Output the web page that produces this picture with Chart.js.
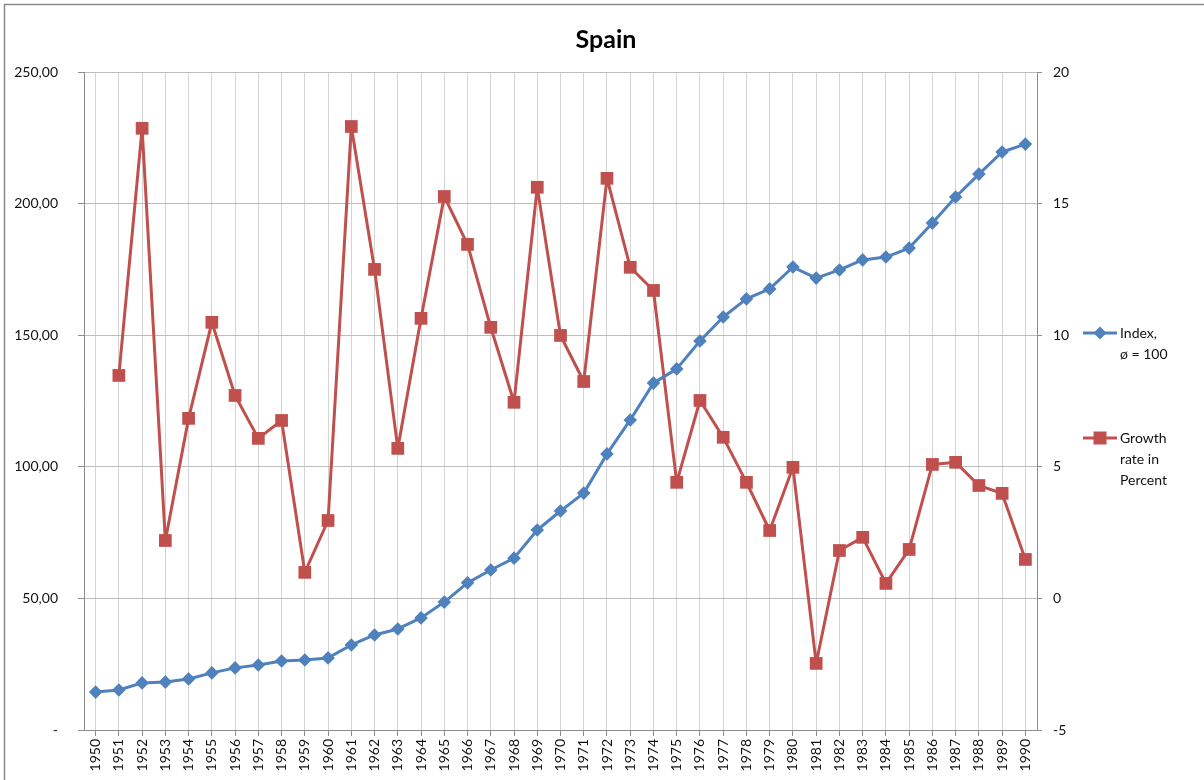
<!DOCTYPE html>
<html>
<head>
<meta charset="utf-8">
<title>Spain</title>
<script src="https://cdn.jsdelivr.net/npm/chart.js@4"></script>
<style>
  body { margin: 0; background: #fff; }
  #wrap { position: relative; width: 1204px; height: 780px; }
</style>
</head>
<body>
<div id="wrap"><canvas id="myChart" width="1204" height="780"></canvas></div>
<script>
// data
var years = [];
for (var y = 1950; y <= 1990; y++) years.push(String(y));

var indexValues = [14.4, 15.2, 17.9, 18.2, 19.4, 21.7, 23.6, 24.7, 26.2, 26.6,
    27.4, 32.3, 36.1, 38.4, 42.6, 48.6, 55.9, 60.8, 65.3, 76.0,
    83.2, 90.0, 104.9, 117.8, 131.8, 137.2, 147.8, 156.9, 163.8, 167.6,
    175.9, 171.7, 174.8, 178.6, 179.7, 183.1, 192.6, 202.5, 211.2, 219.6,
    222.6];

var growthValues = [null, 8.47, 17.86, 2.20, 6.84, 10.49, 7.71, 6.08, 6.76, 0.99,
    2.96, 17.93, 12.50, 5.70, 10.64, 15.27, 13.45, 10.30, 7.45, 15.62,
    9.99, 8.24, 15.96, 12.58, 11.70, 4.41, 7.52, 6.12, 4.41, 2.58,
    4.98, -2.47, 1.82, 2.32, 0.57, 1.86, 5.09, 5.17, 4.29, 3.99,
    1.48];

var seriesNames = [["Index,", "ø = 100"], ["Growth", "rate in", "Percent"]];
var leftTicks = [0, 50, 100, 150, 200, 250];
var rightTicks = [-5, 0, 5, 10, 15, 20];

var blue = "#4F81BD";
var red = "#C0504D";
var fontFam = "Lato, 'Open Sans', sans-serif";

// frame, title and legend (excel style)
var decor = {
    id: "decor",
    beforeDraw: function(chart) {
        var ctx = chart.ctx;
        ctx.save();
        ctx.fillStyle = "#fff";
        ctx.fillRect(0, 0, chart.width, chart.height);
        ctx.strokeStyle = "#8a8a8a";
        ctx.lineWidth = 1.5;
        ctx.beginPath();
        ctx.moveTo(4.5, chart.height);
        ctx.lineTo(4.5, 4.5);
        ctx.lineTo(chart.width, 4.5);
        ctx.stroke();
        ctx.restore();
    },
    afterDraw: function(chart) {
        var ctx = chart.ctx;
        ctx.save();
        ctx.fillStyle = "#000";
        ctx.font = "bold 25px " + fontFam;
        ctx.textAlign = "center";
        ctx.textBaseline = "middle";
        ctx.fillText("Spain", 606, 40);

        var rows = [333, 438];
        chart.data.datasets.forEach(function(ds, i) {
            var yy = rows[i];
            ctx.strokeStyle = ds.borderColor;
            ctx.lineWidth = 3;
            ctx.beginPath();
            ctx.moveTo(1083, yy);
            ctx.lineTo(1117, yy);
            ctx.stroke();
            ctx.fillStyle = ds.borderColor;
            if (i == 0) {
                ctx.beginPath();
                ctx.moveTo(1100, yy - 6.5);
                ctx.lineTo(1106.5, yy);
                ctx.lineTo(1100, yy + 6.5);
                ctx.lineTo(1093.5, yy);
                ctx.closePath();
                ctx.fill();
            } else {
                ctx.fillRect(1093.5, yy - 6.5, 13, 13);
            }
            ctx.fillStyle = "#111";
            ctx.font = "14px " + fontFam;
            ctx.textAlign = "left";
            ctx.textBaseline = "middle";
            seriesNames[i].forEach(function(t, k) {
                ctx.fillText(t, 1120, yy + k * 21);
            });
        });
        ctx.restore();
    }
};

new Chart("myChart", {
    type: "line",
    data: {
        labels: years,
        datasets: [{
            label: seriesNames[0].join(" "),
            data: indexValues,
            yAxisID: "y",
            borderColor: blue,
            backgroundColor: blue,
            borderWidth: 3,
            borderJoinStyle: "round",
            pointStyle: "rectRot",
            pointRadius: 6.8,
            pointBorderWidth: 0,
            lineTension: 0,
            fill: false
        }, {
            label: seriesNames[1].join(" "),
            data: growthValues,
            yAxisID: "y2",
            borderColor: red,
            backgroundColor: red,
            borderWidth: 3,
            borderJoinStyle: "round",
            pointStyle: "rect",
            pointRadius: 9,
            pointBorderWidth: 0,
            lineTension: 0,
            fill: false
        }]
    },
    options: {
        responsive: false,
        animation: false,
        layout: { padding: { top: 72, left: 6, right: 127, bottom: 0 } },
        plugins: {
            legend: { display: false },
            title: { display: false },
            tooltip: { enabled: false }
        },
        scales: {
            x: {
                offset: true,
                grid: { offset: false, color: "#d4d4d4", tickLength: 6, tickColor: "#8c8c8c" },
                border: { color: "#8c8c8c" },
                ticks: {
                    autoSkip: false,
                    minRotation: 90,
                    maxRotation: 90,
                    padding: 3,
                    color: "#111",
                    font: { family: fontFam, size: 14 }
                },
                afterFit: function(scale) { scale.height = 50; }
            },
            y: {
                position: "left",
                min: 0,
                max: 250,
                afterBuildTicks: function(scale) {
                    scale.ticks = leftTicks.map(function(v) { return { value: v }; });
                },
                grid: { color: "#bdbdbd", tickLength: 6, tickColor: "#8c8c8c" },
                border: { color: "#8c8c8c" },
                ticks: {
                    padding: 20,
                    color: "#111",
                    font: { family: fontFam, size: 14 },
                    callback: function(v) {
                        if (v == 0) return "-";
                        return v.toFixed(2).replace(".", ",");
                    }
                },
                afterFit: function(scale) { scale.width = 78; }
            },
            y2: {
                position: "right",
                min: -5,
                max: 20,
                afterBuildTicks: function(scale) {
                    scale.ticks = rightTicks.map(function(v) { return { value: v }; });
                },
                grid: { drawOnChartArea: false, tickLength: 5, color: "#8c8c8c" },
                border: { color: "#8c8c8c" },
                ticks: {
                    padding: 11,
                    color: "#111",
                    font: { family: fontFam, size: 14 }
                },
                afterFit: function(scale) { scale.width = 40; }
            }
        }
    },
    plugins: [decor]
});
</script>
</body>
</html>
